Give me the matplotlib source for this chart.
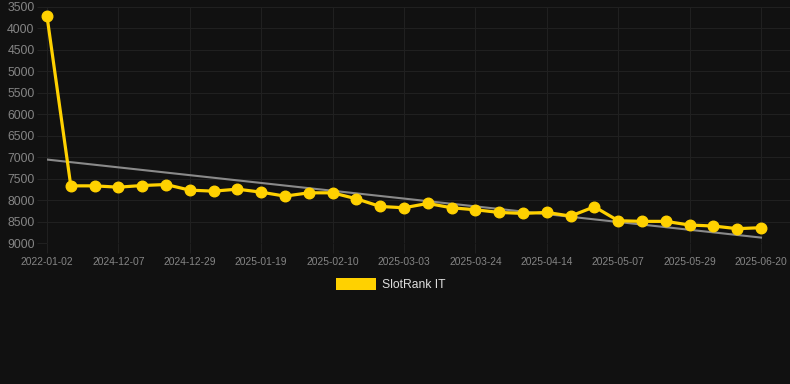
import matplotlib
matplotlib.use("Agg")
import matplotlib.pyplot as plt
import numpy as np

dates = ["2022-01-02", "2024-11-30", "2024-12-03", "2024-12-07", "2024-12-14", "2024-12-21",
         "2024-12-29", "2025-01-05", "2025-01-12", "2025-01-19", "2025-01-26", "2025-02-03",
         "2025-02-10", "2025-02-17", "2025-02-24", "2025-03-03", "2025-03-10", "2025-03-17",
         "2025-03-24", "2025-03-31", "2025-04-07", "2025-04-14", "2025-04-21", "2025-04-28",
         "2025-05-07", "2025-05-14", "2025-05-21", "2025-05-29", "2025-06-05", "2025-06-12",
         "2025-06-20"]
rank = [3720, 7664, 7664, 7695, 7656, 7633, 7764, 7787, 7741, 7811, 7903, 7826, 7826,
        7965, 8143, 8174, 8073, 8174, 8220, 8282, 8305, 8282, 8367, 8151, 8475, 8490,
        8490, 8575, 8598, 8660, 8637]
series_label = "SlotRank IT"
yticks = [3500, 4000, 4500, 5000, 5500, 6000, 6500, 7000, 7500, 8000, 8500, 9000]

W, H = 790, 384
fig = plt.figure(figsize=(W / 100, H / 100), dpi=100)
bg = "#111111"
fig.patch.set_facecolor(bg)
ax = fig.add_axes([47 / W, 1 - 243.3 / H, (790 - 47) / W, (243.3 - 6.8) / H])
ax.set_facecolor(bg)

x = np.arange(len(rank))
coef = np.polyfit(x, rank, 1)
ax.plot(x, np.polyval(coef, x), color="#8a8a8a", lw=1.5, zorder=2)
ax.plot(x, rank, color="#FFD100", lw=2.3, marker="o", ms=7.6,
        markerfacecolor="#FFD100", markeredgecolor="#FFD100", zorder=3, clip_on=False)

step = (761 - 47) / 30
ax.set_xlim(0, (790 - 47) / step)
ax.set_ylim(9000, 3500)
ax.set_yticks(yticks)
ax.set_yticklabels([str(v) for v in yticks])
ax.set_xticks(x[::3])
ax.set_xticklabels([dates[i] for i in range(0, len(dates), 3)])

grid_c = "#202020"
ax.grid(True, color=grid_c, lw=0.8)
for s in ax.spines.values():
    s.set_visible(False)
ax.tick_params(axis="y", length=7, color=grid_c, width=0.8, pad=2,
               labelsize=8.8, labelcolor="#858585", labelfontfamily="Liberation Sans")
ax.tick_params(axis="x", length=7, color=grid_c, width=0.8, pad=3,
               labelsize=7.4, labelcolor="#858585", labelfontfamily="Liberation Sans")

# legend
fig.patches.append(plt.Rectangle((336 / W, 1 - 290 / H), 40 / W, 12 / H,
                                 transform=fig.transFigure, facecolor="#FFD100",
                                 edgecolor="none"))
fig.text(382 / W, 1 - 284.5 / H, series_label, color="#dddddd", fontsize=8.7,
         family="Liberation Sans", va="center", ha="left")

fig.savefig("out.png", dpi=100, facecolor=bg)
